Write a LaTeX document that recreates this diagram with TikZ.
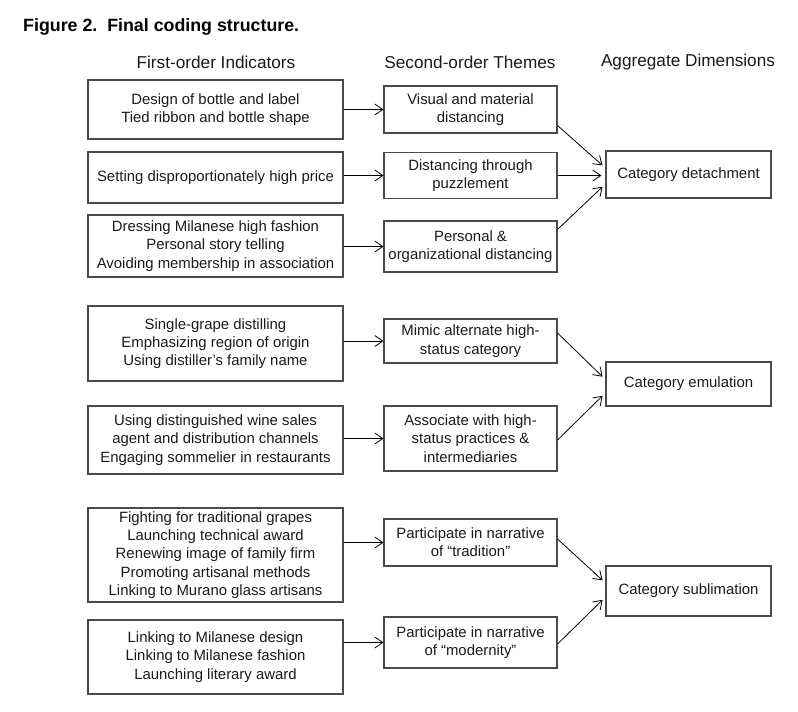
\documentclass[tikz,border=0pt]{standalone}
\usepackage{fontspec}
\setmainfont{Liberation Sans}
\usetikzlibrary{arrows.meta, calc}
\definecolor{boxgray}{HTML}{4A4A4A}
\definecolor{txtblack}{HTML}{1A1A1A}

\begin{document}
\begin{tikzpicture}[
  x=1pt, y=-1pt,
  indicator/.style={rectangle, draw=boxgray, line width=1.1pt, minimum width=255pt, minimum height=#1, inner sep=0pt, align=center, text=txtblack, font=\fontsize{14.9}{18.3}\selectfont},
  theme/.style={indicator=#1, minimum width=173pt},
  dimension/.style={indicator=#1, minimum width=165pt},
  header/.style={font=\fontsize{17.2}{20}\selectfont, text=txtblack},
  arr/.style={-{Straight Barb[length=8pt, width=11pt]}, line width=0.8pt, black},
  toagg/.style={arr, shorten >=4pt},
]
  \useasboundingbox (0,0) rectangle (798,712);

  % Title and column headers
  \node[anchor=base west, inner sep=0pt, font=\fontsize{17.8}{20}\selectfont\bfseries] (title) at (23,31) {Figure 2.\ \ Final coding structure.};
  \node[header] (hfirst) at (216,62) {First-order Indicators};
  \node[header] (hsecond) at (470,62) {Second-order Themes};
  \node[header] (hagg) at (688,62) {Aggregate Dimensions};

  % First-order indicators
  \node[indicator=59pt] (f1) at (215.5,109.5) {Design of bottle and label\\Tied ribbon and bottle shape};
  \node[indicator=51pt] (f2) at (215.5,177.5) {Setting disproportionately high price};
  \node[indicator=62pt] (f3) at (215.5,246) {Dressing Milanese high fashion\\Personal story telling\\Avoiding membership in association};
  \node[indicator=75pt] (f4) at (215.5,343.5) {Single-grape distilling\\Emphasizing region of origin\\Using distiller’s family name};
  \node[indicator=68pt] (f5) at (215.5,440) {Using distinguished wine sales\\agent and distribution channels\\Engaging sommelier in restaurants};
  \node[indicator=94pt] (f6) at (215.5,555) {Fighting for traditional grapes\\Launching technical award\\Renewing image of family firm\\Promoting artisanal methods\\Linking to Murano glass artisans};
  \node[indicator=74pt] (f7) at (215.5,657) {Linking to Milanese design\\Linking to Milanese fashion\\Launching literary award};

  % Second-order themes
  \node[theme=47pt] (t1) at (470.5,109.5) {Visual and material\\distancing};
  \node[theme=46pt] (t2) at (470.5,175.5) {Distancing through\\puzzlement};
  \node[theme=51pt] (t3) at (470.5,246.5) {Personal \&\\organizational distancing};
  \node[theme=44pt] (t4) at (470.5,341) {Mimic alternate high-\\status category};
  \node[theme=65pt] (t5) at (470.5,438.5) {Associate with high-\\status practices \&\\intermediaries};
  \node[theme=47pt] (t6) at (470.5,542.5) {Participate in narrative\\of “tradition”};
  \node[theme=51pt] (t7) at (470.5,642.5) {Participate in narrative\\of “modernity”};

  % Aggregate dimensions
  \node[dimension=47pt] (a1) at (688.5,174.5) {Category detachment};
  \node[dimension=44pt] (a2) at (688.5,384) {Category emulation};
  \node[dimension=50pt] (a3) at (688.5,591) {Category sublimation};

  % Arrows
  \foreach \i in {1,...,7}
    \draw[arr] (f\i.east |- t\i.west) -- (t\i.west);
  \draw[toagg] ([yshift=8pt]t1.south east) -- ([yshift=6.5pt]a1.west);
  \draw[toagg] (t2.east) -- (a1.west |- t2.east);
  \draw[toagg] ([yshift=-9pt]t3.north east) -- ([yshift=-9.5pt]a1.west);
  \draw[toagg] ([yshift=8pt]t4.east) -- ([yshift=4.5pt]a2.west);
  \draw[toagg] ([yshift=-1.5pt]t5.east) -- ([yshift=-9pt]a2.west);
  \draw[toagg] ([yshift=3.5pt]t6.east) -- ([yshift=8pt]a3.west);
  \draw[toagg] ([yshift=-1.5pt]t7.east) -- ([yshift=-6pt]a3.west);
\end{tikzpicture}
\end{document}
